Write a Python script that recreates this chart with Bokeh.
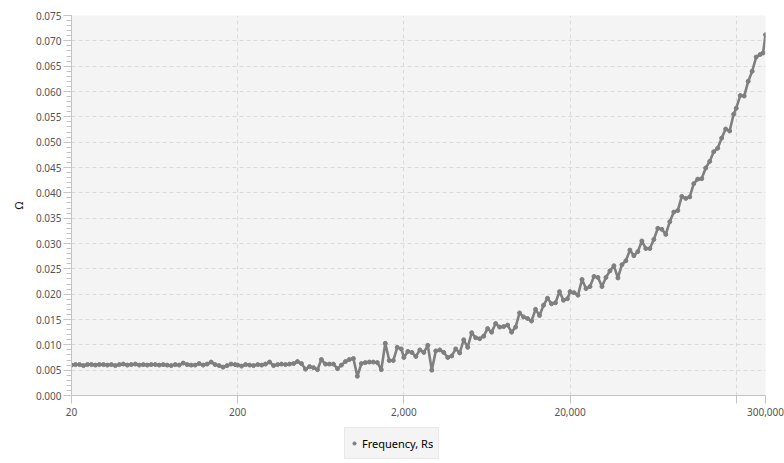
from bokeh.plotting import figure
from bokeh.layouts import column
from bokeh.models import Range1d, FixedTicker, NumeralTickFormatter, Legend, LegendItem
from bokeh.embed import file_html
from bokeh.resources import INLINE

freq_hz = [
    20, 21.14, 22.34, 23.61, 24.95, 26.37, 27.86, 29.45, 31.12, 32.89, 34.76, 36.73, 38.82, 41.03,
    43.36, 45.82, 48.43, 51.18, 54.09, 57.16, 60.41, 63.84, 67.47, 71.31, 75.36, 79.66, 84.19, 88.97,
    94.03, 99.38, 105.0, 111.0, 117.3, 124.0, 131.0, 138.5, 146.3, 154.6, 163.4, 172.7, 182.5, 192.9,
    200, 211, 223, 236, 249, 264, 279, 294, 311, 329, 348, 367, 388, 410,
    434, 458, 484, 512, 541, 572, 604, 638, 675, 713, 754, 797, 842, 890,
    940, 994, 1050, 1110, 1173, 1240, 1310, 1385, 1463, 1546, 1634, 1727, 1825, 1929,
    2000, 2114, 2234, 2361, 2495, 2637, 2786, 2945, 3112, 3289, 3476, 3673, 3882, 4103,
    4336, 4582, 4843, 5118, 5409, 5716, 6041, 6384, 6747, 7131, 7536, 7966, 8419, 8897,
    9403, 9938, 10503, 11099, 11730, 12397, 13102, 13846, 14633, 15465, 16344, 17273, 18254, 19292,
    20000, 21136, 22336, 23606, 24946, 26366, 27864, 29446, 31120, 32888, 34756, 36732, 38818, 41026,
    43358, 45822, 48426, 51178, 54088, 57160, 60410, 63842, 67472, 71306, 75358, 79660, 84188, 88972,
    94034, 99376, 105026, 110994, 117300, 123972, 131016, 138464, 146332, 154646, 163440, 172728, 182544, 192916,
    200000, 211360, 223360, 236060, 249460, 263660, 278640, 290000, 300000,
]

rs_ohm = [
    0.0060, 0.0061, 0.0061, 0.0059, 0.0061, 0.0061, 0.0060, 0.0061, 0.0061, 0.0060,
    0.0061, 0.0059, 0.0061, 0.0062, 0.0060, 0.0061, 0.0062, 0.0060, 0.0061, 0.0060,
    0.0061, 0.0061, 0.0060, 0.0061, 0.0060, 0.0059, 0.0061, 0.0060, 0.0064, 0.0061,
    0.0060, 0.0060, 0.0063, 0.0060, 0.0062, 0.0066, 0.0061, 0.0059, 0.0056, 0.0059,
    0.0062, 0.0061,
    0.0060, 0.0058, 0.0061, 0.0060, 0.0059, 0.0061, 0.0060, 0.0062, 0.0066, 0.0059,
    0.0061, 0.0062, 0.0061, 0.0062, 0.0063, 0.0067, 0.0063, 0.0052, 0.0057, 0.0055,
    0.0051, 0.0071, 0.0062, 0.0062, 0.0062, 0.0053, 0.0060, 0.0067, 0.0071, 0.0073,
    0.0038, 0.0063, 0.0065, 0.0066, 0.0066, 0.0065, 0.0051, 0.0103, 0.0069, 0.0069,
    0.0095, 0.0092,
    0.0075, 0.0087, 0.0085, 0.0077, 0.0090, 0.0085, 0.0099, 0.0050, 0.0088, 0.0090,
    0.0085, 0.0075, 0.0078, 0.0092, 0.0084, 0.0110, 0.0095, 0.0124, 0.0114, 0.0112,
    0.0117, 0.0132, 0.0125, 0.0142, 0.0135, 0.0136, 0.0139, 0.0125, 0.0135, 0.0163,
    0.0155, 0.0152, 0.0147, 0.0170, 0.0158, 0.0178, 0.0192, 0.0181, 0.0183, 0.0205,
    0.0188, 0.0191,
    0.0205, 0.0203, 0.0198, 0.0229, 0.0211, 0.0215, 0.0235, 0.0233, 0.0215, 0.0233,
    0.0246, 0.0256, 0.0232, 0.0258, 0.0266, 0.0287, 0.0276, 0.0284, 0.0305, 0.0290,
    0.0290, 0.0308, 0.0330, 0.0328, 0.0318, 0.0343, 0.0362, 0.0365, 0.0393, 0.0389,
    0.0392, 0.0418, 0.0427, 0.0428, 0.0449, 0.0462, 0.0481, 0.0488, 0.0508, 0.0526,
    0.0522, 0.0555,
    0.0567, 0.0592, 0.0591, 0.0620, 0.0640, 0.0668, 0.0673, 0.0676, 0.0712,
]

x_tick_values = [20, 200, 2000, 20000, 200000, 300000]
x_hidden_labels = {200000: ""}
y_tick_values = [0.000, 0.005, 0.010, 0.015, 0.020, 0.025, 0.030, 0.035,
                 0.040, 0.045, 0.050, 0.055, 0.060, 0.065, 0.070, 0.075]
y_minor_values = [i / 1000 for i in range(76)]
series_label = "Frequency, Rs"
y_label = "Ω"

FONT = "Noto Sans"
GREY = "#7f7f7f"
AXIS = "#c4c4c4"

fig = figure(width=784, height=425, x_axis_type="log",
             x_range=Range1d(20, 300000), y_range=Range1d(0, 0.075),
             output_backend="svg", toolbar_location=None,
             min_border_left=71, min_border_right=19, min_border_top=15, min_border_bottom=30)

fig.background_fill_color = "#f4f4f4"
fig.border_fill_color = "white"
fig.outline_line_color = None

fig.line(freq_hz, rs_ohm, line_color=GREY, line_width=2.6)
fig.scatter(freq_hz, rs_ohm, size=4, color=GREY)

# axes
fig.xaxis.ticker = FixedTicker(ticks=x_tick_values, minor_ticks=[])
fig.xaxis.formatter = NumeralTickFormatter(format="0,0")
fig.xaxis.major_label_overrides = x_hidden_labels
fig.yaxis.ticker = FixedTicker(ticks=y_tick_values, minor_ticks=y_minor_values)
fig.yaxis.formatter = NumeralTickFormatter(format="0.000")
fig.yaxis.axis_label = y_label

for ax in (fig.xaxis[0], fig.yaxis[0]):
    ax.axis_line_color = AXIS
    ax.major_tick_line_color = AXIS
    ax.minor_tick_line_color = AXIS
    ax.major_tick_out = 8
    ax.major_tick_in = 0
    ax.minor_tick_out = 5
    ax.minor_tick_in = 0
    ax.major_label_text_font = FONT
    ax.major_label_text_font_size = "10px"
    ax.major_label_text_color = "#555555"

fig.xaxis.major_label_standoff = 4
fig.yaxis.major_label_standoff = 2
fig.yaxis.axis_label_text_font = FONT
fig.yaxis.axis_label_text_font_size = "11px"
fig.yaxis.axis_label_text_font_style = "normal"
fig.yaxis.axis_label_text_color = "#111111"
fig.yaxis.axis_label_standoff = 7

fig.xgrid.grid_line_color = "#dadada"
fig.xgrid.grid_line_dash = "4 3"
fig.ygrid.grid_line_color = "#dadada"
fig.ygrid.grid_line_dash = "4 3"

# legend strip under the chart (its frame is aligned with the chart's frame)
lfig = figure(width=784, height=38, x_range=Range1d(0, 1), y_range=Range1d(0, 1),
              output_backend="svg", toolbar_location=None,
              x_axis_location=None, y_axis_location=None,
              min_border_left=0, min_border_right=0, min_border_top=0, min_border_bottom=0)
lfig.outline_line_color = None
lfig.grid.visible = False
lfig.background_fill_color = "white"
lfig.border_fill_color = "white"
# legend key glyph, kept outside the visible range of the strip
key_r = lfig.scatter(x=[-5], y=[-5], size=4, color=GREY)

legend = Legend(items=[LegendItem(label=series_label, renderers=[key_r])],
                location=(273, 4), orientation="horizontal")
legend.background_fill_color = "#f4f4f4"
legend.background_fill_alpha = 1.0
legend.border_line_color = "#dcdcdc"
legend.label_text_font = FONT
legend.label_text_font_size = "11px"
legend.label_text_color = "black"
legend.glyph_width = 8
legend.glyph_height = 20
legend.label_height = 20
legend.padding = 5
legend.label_standoff = 4
legend.margin = 0
legend.spacing = 0
lfig.add_layout(legend)

p = column(fig, lfig, spacing=0)

open("out.html", "w").write(file_html(p, INLINE))
